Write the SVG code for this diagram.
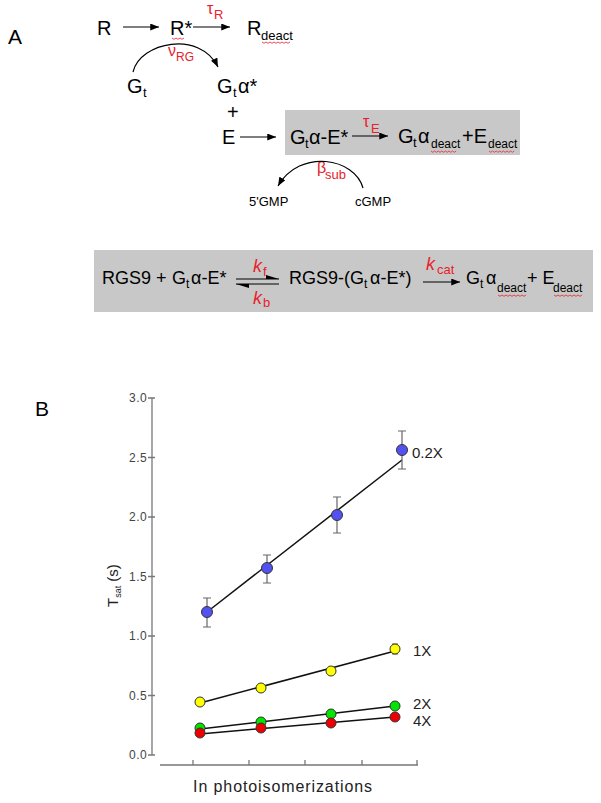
<svg xmlns="http://www.w3.org/2000/svg" xmlns:xlink="http://www.w3.org/1999/xlink" width="601" height="803" viewBox="0 0 601 803">
<style>
text{font-family:"Liberation Sans",Arial,sans-serif;fill:#000}
.m{font-size:20px}
.b{font-size:18px}
.s{font-size:13px}
.ss{font-size:12px}
.g{font-size:16px}
.r{fill:#e8202a}
.k{font-style:italic;font-size:18px}
.ln{stroke:#000;stroke-width:1.2;fill:none}
.ax{stroke:#777;stroke-width:1.3;fill:none}
.tl{font-size:12px;fill:#444;text-anchor:end;letter-spacing:0.4px}
.sl{font-size:15px;fill:#222}
.fit{stroke:#111;stroke-width:1.5;fill:none}
.eb{stroke:#666;stroke-width:1.2;fill:none}
.pt{stroke:#333;stroke-width:1}
.wv{stroke:#e8202a;stroke-width:0.8;fill:none}
</style>
<defs>
<marker id="ah" viewBox="0 0 10 8" refX="10" refY="4" markerWidth="9" markerHeight="7" markerUnits="userSpaceOnUse" orient="auto"><path d="M0,0 L10,4 L0,8 z" fill="#000"/></marker>
<path id="wv" d="M0,0 l2,1.3 l2,-1.3 l2,1.3 l2,-1.3 l2,1.3 l2,-1.3 l2,1.3 l2,-1.3 l2,1.3 l2,-1.3 l2,1.3 l2,-1.3 l2,1.3 l2,-1.3"/>
<path id="wvs" d="M0,0 l2,1.3 l2,-1.3 l2,1.3 l2,-1.3 l2,1.3 l2,-1.3"/>
</defs>
<rect width="601" height="803" fill="#fff"/>

<!-- Panel A -->
<text x="8" y="44" style="font-size:21px">A</text>

<g id="boxE"><rect x="285" y="110" width="235" height="45" fill="#c8c8c8"/></g>
<g id="boxRGS"><rect x="94" y="250" width="499" height="62" fill="#c8c8c8"/></g>

<g id="R"><text class="m" x="97" y="35">R</text></g>
<g id="Rstar"><text class="m" x="170" y="35">R*</text><use href="#wvs" x="172" y="38" class="wv"/></g>
<g id="Rdeact"><text class="m" x="247" y="35">R</text><text class="s" x="261" y="40">deact</text><use href="#wv" x="262" y="42" class="wv"/></g>
<g id="tauR"><text class="r g" x="207" y="14">τ</text><text class="r s" x="214" y="19">R</text></g>
<g id="nuRG"><text class="r g" x="168" y="56">ν</text><text class="r ss" x="176" y="61">RG</text></g>
<g id="Gt"><text class="m" x="127" y="93">G</text><text class="s" x="143" y="97">t</text></g>
<g id="Gtastar"><text class="m" x="217" y="93">G</text><text class="s" x="233" y="97">t</text><text class="m" x="238" y="93">α*</text></g>
<g id="plus"><text class="m" x="227" y="119">+</text></g>
<g id="E"><text class="m" x="222" y="144">E</text></g>
<g id="GtaE"><text class="m" x="290" y="144">G</text><text class="s" x="305" y="148">t</text><text class="m" x="309" y="144">α-E*</text></g>
<g id="tauE"><text class="r g" x="363" y="127">τ</text><text class="r s" x="371" y="133">E</text></g>
<g id="deactE"><text class="m" x="398" y="143">G</text><text class="s" x="413" y="147">t</text><text class="m" x="418" y="143">α</text><text class="ss" x="431" y="148">deact</text><text class="m" x="462" y="143">+E</text><text class="ss" x="488" y="148">deact</text><use href="#wv" x="431" y="151" class="wv" transform="translate(431,151) scale(0.9,1) translate(-431,-151)"/><use href="#wv" x="489" y="151" class="wv" transform="translate(489,151) scale(0.9,1) translate(-489,-151)"/></g>
<g id="betasub"><text class="r g" x="317" y="173">β</text><text class="r s" x="325" y="179">sub</text></g>
<g id="GMP5"><text x="249" y="206" style="font-size:13px">5'GMP</text></g>
<g id="cGMP"><text x="355" y="206" style="font-size:13px">cGMP</text></g>

<!-- RGS9 box text -->
<g id="RGS9"><text class="b" x="102" y="284">RGS9</text><text class="b" x="156" y="284">+</text><text class="b" x="172" y="284">G</text><text class="ss" x="186" y="288">t</text><text class="b" x="191" y="284">α-E*</text></g>
<g id="kf"><text class="r k" x="253" y="272">k</text><text class="r s" x="263" y="276">f</text></g>
<g id="kb"><text class="r k" x="253" y="304">k</text><text class="r s" x="263" y="307">b</text></g>
<g id="complex"><text class="b" x="289" y="284">RGS9-(G</text><text class="ss" x="364" y="288">t</text><text class="b" x="370" y="284">α-E*)</text></g>
<g id="kcat"><text class="r k" x="426" y="270">k</text><text class="r s" x="437" y="274">cat</text></g>
<g id="products"><text class="b" x="466" y="284">G</text><text class="ss" x="480" y="288">t</text><text class="b" x="486" y="284">α</text><text class="ss" x="497" y="292">deact</text><text class="b" x="527" y="284">+ E</text><text class="ss" x="553" y="292">deact</text><use href="#wv" x="498" y="295" class="wv"/><use href="#wv" x="554" y="295" class="wv"/></g>

<g id="connectors">
<line class="ln" x1="123" y1="27" x2="159" y2="27" marker-end="url(#ah)"/>
<line class="ln" x1="193" y1="27" x2="230" y2="27" marker-end="url(#ah)"/>
<path class="ln" d="M133,72 C140,42 200,30 218,67" stroke-width="1" marker-end="url(#ah)"/>
<line class="ln" x1="240" y1="137" x2="276" y2="137" marker-end="url(#ah)"/>
<line class="ln" x1="352" y1="136" x2="388" y2="136" marker-end="url(#ah)"/>
<path class="ln" d="M363,188 C355,158 300,148 278,186" stroke-width="1" marker-end="url(#ah)"/>
<line class="ln" x1="236" y1="279" x2="279" y2="279" stroke-width="1.4"/>
<path d="M279,279 L266,275 L266,279 z" fill="#000"/>
<line class="ln" x1="236" y1="284" x2="279" y2="284" stroke-width="1.4"/>
<path d="M236,284 L249,288 L249,284 z" fill="#000"/>
<line class="ln" x1="423" y1="282" x2="460" y2="282" marker-end="url(#ah)"/>
</g>

<!-- Panel B -->
<text x="35" y="416" style="font-size:21px">B</text>
<g id="axes">
<path class="ax" d="M152,398 V755"/>
<path class="ax" d="M148,398 H155 M148,457.5 H155 M148,517 H155 M148,576.5 H155 M148,636 H155 M148,695.5 H155 M148,755 H155"/>
<path class="ax" d="M160,765 H418 M193,765 V760 M249,765 V760 M305,765 V760 M362,765 V760 M417,765 V760"/>
<text class="tl" x="147" y="402">3.0</text>
<text class="tl" x="147" y="461.5">2.5</text>
<text class="tl" x="147" y="521">2.0</text>
<text class="tl" x="147" y="580.5">1.5</text>
<text class="tl" x="147" y="640">1.0</text>
<text class="tl" x="147" y="699.5">0.5</text>
<text class="tl" x="147" y="759">0.0</text>
<text transform="translate(118,607) rotate(-90)" style="font-size:15px;fill:#222">T<tspan dy="3" style="font-size:9px">sat</tspan><tspan dy="-3"> (s)</tspan></text>
<text x="283" y="792" text-anchor="middle" style="font-size:16px;letter-spacing:0.9px;fill:#222">In photoisomerizations</text>
</g>
<g id="series02">
<path class="fit" d="M207,612 L402,460"/>
<path class="eb" d="M207,598 V627 M203,598 H211 M203,627 H211 M267,555 V583 M263,555 H271 M263,583 H271 M337,497 V533 M333,497 H341 M333,533 H341 M402,431 V469 M398,431 H406 M398,469 H406"/>
<g class="pt" fill="#5252f2"><circle cx="207" cy="612" r="5.5"/><circle cx="267" cy="568" r="5.5"/><circle cx="337" cy="515" r="5.5"/><circle cx="402" cy="450" r="5.5"/></g>
<text class="sl" x="412" y="458">0.2X</text>
</g>
<g id="series1">
<path class="fit" d="M200,703 L395,651"/>
<path class="eb" d="M395,644 V654 M392,644 H398 M392,654 H398"/>
<g class="pt" fill="#ffff00"><circle cx="200" cy="702" r="5"/><circle cx="261" cy="688" r="5"/><circle cx="331" cy="671" r="5"/><circle cx="395" cy="649" r="5"/></g>
<text class="sl" x="413" y="656">1X</text>
</g>
<g id="series2">
<path class="fit" d="M200,729 L395,706"/>
<g class="pt" fill="#00e600"><circle cx="200" cy="728" r="5"/><circle cx="261" cy="722" r="5"/><circle cx="331" cy="714" r="5"/><circle cx="395" cy="706" r="5"/></g>
<text class="sl" x="413" y="709">2X</text>
</g>
<g id="series4">
<path class="fit" d="M200,734 L395,717"/>
<g class="pt" fill="#ee0000"><circle cx="200" cy="733" r="5"/><circle cx="261" cy="728" r="5"/><circle cx="331" cy="723" r="5"/><circle cx="395" cy="717" r="5"/></g>
<text class="sl" x="413" y="726">4X</text>
</g>
</svg>
